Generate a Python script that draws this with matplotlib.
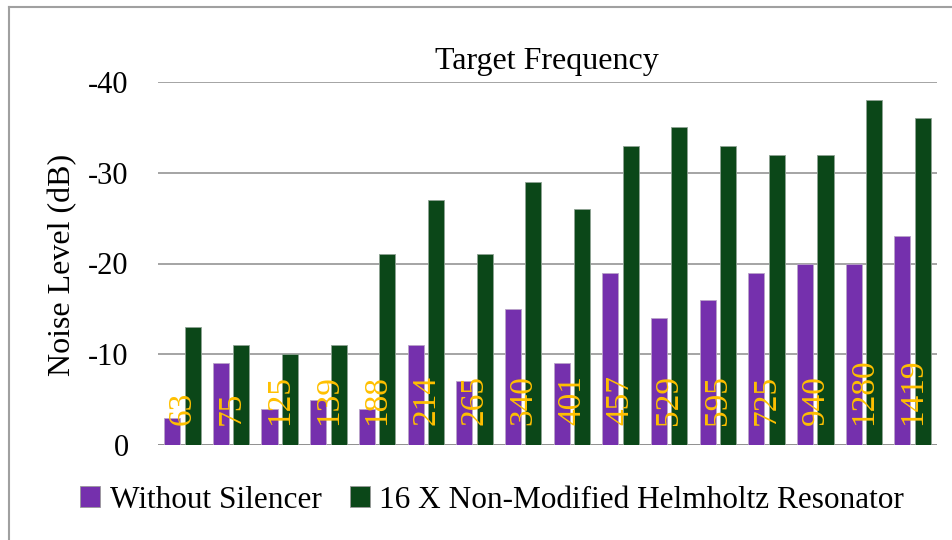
import matplotlib.pyplot as plt
import numpy as np
from matplotlib.lines import Line2D
from matplotlib.patches import Patch

# frequencies (Hz) shown as labels on each group
freqs = ['63', '75', '125', '139', '188', '214', '265', '340',
         '401', '457', '529', '595', '725', '940', '1280', '1419']
without_silencer = [-3, -9, -4, -5, -4, -11, -7, -15, -9, -19, -14, -16, -19, -20, -20, -23]
helmholtz_16x = [-13, -11, -10, -11, -21, -27, -21, -29, -26, -33, -35, -33, -32, -32, -38, -36]

purple = '#7530ad'
green = '#0b4718'
yellow = '#ffc000'

plt.rcParams['font.family'] = ['Liberation Serif', 'DejaVu Serif']

fig = plt.figure(figsize=(9.52, 5.4), dpi=100)
ax = fig.add_axes([158 / 952, 1 - 445 / 540, (937 - 158) / 952, (445 - 82) / 540])

x = np.arange(len(freqs))
w = 0.33
ax.bar(x - 0.21, without_silencer, w, color=purple, edgecolor='#b9a3c9', linewidth=0.6, zorder=3)
ax.bar(x + 0.21, helmholtz_16x, w, color=green, edgecolor='#8fa394', linewidth=0.6, zorder=3)

# frequency labels inside the plot
for xi, f in zip(x, freqs):
    ax.text(xi, -2.2, f, rotation=90, ha='center', va='bottom', color=yellow,
            fontsize=24, zorder=4)

ax.set_xlim(-0.5, len(freqs) - 0.5)
ax.set_ylim(0, -40)
ax.set_yticks([0, -10, -20, -30, -40])
ax.set_yticklabels(['0', '-10', '-20', '-30', '-40'])
ax.set_xticks([])
ax.tick_params(axis='y', length=0, pad=21, labelsize=22)
ax.yaxis.grid(True, color='#8c8c8c', linewidth=1.1, zorder=0)
for s in ax.spines.values():
    s.set_visible(False)
ax.axhline(0, color='#8c8c8c', linewidth=1.1, zorder=2)

fig.text(547 / 952, 1 - 62 / 540, 'Target Frequency', ha='center', va='center', fontsize=23)
fig.text(63 / 952, 1 - 265 / 540, 'Noise Level (dB)', ha='center', va='center',
         rotation=90, fontsize=23)

handles = [Patch(facecolor=purple, edgecolor='#999999', linewidth=0.6),
           Patch(facecolor=green, edgecolor='#999999', linewidth=0.6)]
fig.legend(handles, ['Without Silencer', '16 X Non-Modified Helmholtz Resonator'],
           loc='center', bbox_to_anchor=(492 / 952, 1 - 500 / 540), ncol=2, frameon=False,
           fontsize=22.5, handlelength=0.65, handleheight=0.65, handletextpad=0.3,
           columnspacing=0.9, borderpad=0)

# outer chart border (left and top edges are visible)
fig.add_artist(Line2D([9 / 952, 9 / 952], [0, 1 - 7 / 540], color='#a0a0a0', linewidth=1.5))
fig.add_artist(Line2D([9 / 952, 1], [1 - 7 / 540, 1 - 7 / 540], color='#a0a0a0', linewidth=1.5))

fig.savefig('out.png', dpi=100)
